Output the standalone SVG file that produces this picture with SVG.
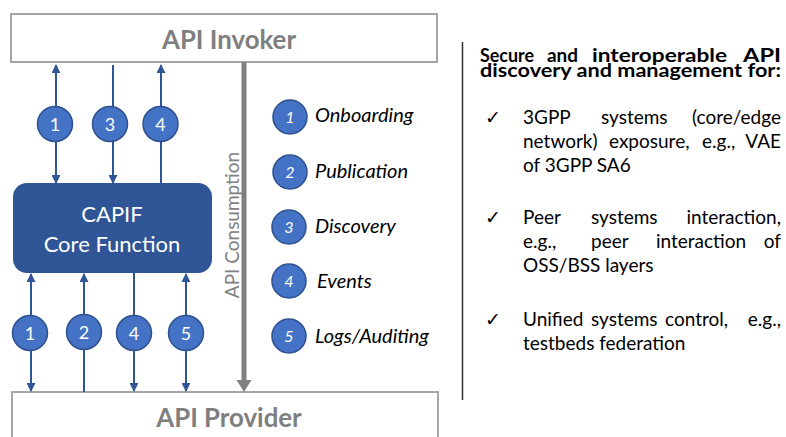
<svg xmlns="http://www.w3.org/2000/svg" width="786" height="437" viewBox="0 0 786 437">
  <style>
    .box { fill: #ffffff; stroke: #a6a6a6; stroke-width: 2; }
    .boxlabel { font-family: Lato, "Liberation Sans", sans-serif; font-weight: bold; font-size: 25.8px; fill: #7f7f7f; text-anchor: middle; }
    .core { fill: #2f5597; }
    .corelabel { font-family: Lato, "Liberation Sans", sans-serif; font-size: 22px; fill: #ffffff; text-anchor: middle; }
    .flow { stroke: #2f5597; stroke-width: 2; fill: none; }
    .badge { fill: #4472c4; stroke: #2f528f; stroke-width: 1.5; }
    .badgenum { font-family: Lato, "Liberation Sans", sans-serif; font-size: 18px; fill: #ffffff; text-anchor: middle; }
    .legnum { font-family: Lato, "Liberation Sans", sans-serif; font-style: italic; font-size: 16px; fill: #ffffff; text-anchor: middle; }
    .legtext { font-family: Lato, "Liberation Sans", sans-serif; font-style: italic; font-size: 20px; fill: #000000; }
    .consume { stroke: #808080; stroke-width: 5; }
    .consumelabel { font-family: Lato, "Liberation Sans", sans-serif; font-size: 19px; fill: #808080; text-anchor: middle; }
    .title { font-family: Lato, "Liberation Sans", sans-serif; font-weight: bold; font-size: 19px; fill: #000000; }
    .item { font-family: Lato, "Liberation Sans", sans-serif; font-size: 19px; fill: #000000; }
    .tick { font-family: "DejaVu Sans", sans-serif; font-size: 19px; fill: #000000; }
    .end { text-anchor: end; }
  </style>
  <defs>
    <marker id="ah" viewBox="0 0 10 10" refX="9" refY="5" markerWidth="9" markerHeight="9" markerUnits="userSpaceOnUse" orient="auto-start-reverse">
      <path d="M0,0 L10,5 L0,10 z" fill="#2f5597"/>
    </marker>
  </defs>

  <!-- API Invoker -->
  <g id="api-invoker">
    <rect class="box" x="11" y="14" width="426" height="48"/>
    <text class="boxlabel" x="229" y="49">API Invoker</text>
  </g>

  <!-- API Provider -->
  <g id="api-provider">
    <rect class="box" x="12" y="392" width="426" height="60"/>
    <text class="boxlabel" x="229" y="427">API Provider</text>
  </g>

  <!-- CAPIF Core Function -->
  <g id="capif-core">
    <rect class="core" x="13" y="183" width="199" height="90" rx="14" ry="14"/>
    <text class="corelabel" x="112" y="222">CAPIF</text>
    <text class="corelabel" x="112" y="252">Core Function</text>
  </g>

  <!-- Connectors -->
  <g id="connectors">
    <!-- invoker side -->
    <path class="flow" d="M56,65 L56,183" marker-start="url(#ah)" marker-end="url(#ah)"/>
    <path class="flow" d="M113,65 L113,183" marker-end="url(#ah)"/>
    <path class="flow" d="M161,183 L161,65" marker-end="url(#ah)"/>
    <!-- provider side -->
    <path class="flow" d="M31,274 L31,391" marker-start="url(#ah)" marker-end="url(#ah)"/>
    <path class="flow" d="M84,392 L84,274" marker-end="url(#ah)"/>
    <path class="flow" d="M134,273 L134,391" marker-end="url(#ah)"/>
    <path class="flow" d="M186,274 L186,391" marker-start="url(#ah)" marker-end="url(#ah)"/>
    <!-- API consumption -->
    <line class="consume" x1="244" y1="62" x2="244" y2="381"/>
    <polygon points="236.5,380 251.5,380 244,392" fill="#808080"/>
    <text class="consumelabel" transform="translate(239,225) rotate(-90)">API Consumption</text>
  </g>

  <!-- Interface badges -->
  <g id="badge-inv-1"><circle class="badge" cx="55" cy="124" r="17.5"/><text class="badgenum" x="55" y="130.5">1</text></g>
  <g id="badge-inv-3"><circle class="badge" cx="110" cy="124" r="17.5"/><text class="badgenum" x="110" y="130.5">3</text></g>
  <g id="badge-inv-4"><circle class="badge" cx="160.5" cy="124" r="17.5"/><text class="badgenum" x="160.5" y="130.5">4</text></g>
  <g id="badge-prov-1"><circle class="badge" cx="30" cy="333" r="17.5"/><text class="badgenum" x="30" y="339.5">1</text></g>
  <g id="badge-prov-2"><circle class="badge" cx="84" cy="332" r="17.5"/><text class="badgenum" x="84" y="338.5">2</text></g>
  <g id="badge-prov-4"><circle class="badge" cx="134" cy="333" r="17.5"/><text class="badgenum" x="134" y="339.5">4</text></g>
  <g id="badge-prov-5"><circle class="badge" cx="186" cy="333" r="17.5"/><text class="badgenum" x="186" y="339.5">5</text></g>

  <!-- Legend -->
  <g id="legend-1"><circle class="badge" cx="290" cy="117" r="17"/><text class="legnum" x="290" y="123">1</text><text class="legtext" x="315" y="122">Onboarding</text></g>
  <g id="legend-2"><circle class="badge" cx="290" cy="172" r="17"/><text class="legnum" x="290" y="178">2</text><text class="legtext" x="315" y="178">Publication</text></g>
  <g id="legend-3"><circle class="badge" cx="289" cy="227" r="17"/><text class="legnum" x="289" y="233">3</text><text class="legtext" x="315" y="233">Discovery</text></g>
  <g id="legend-4"><circle class="badge" cx="289" cy="281" r="17"/><text class="legnum" x="289" y="287">4</text><text class="legtext" x="317" y="288">Events</text></g>
  <g id="legend-5"><circle class="badge" cx="289" cy="336" r="17"/><text class="legnum" x="289" y="342">5</text><text class="legtext" x="315" y="343">Logs/Auditing</text></g>

  <!-- Divider -->
  <line x1="462.5" y1="42" x2="462.5" y2="400" stroke="#333333" stroke-width="1.5"/>

  <!-- Feature list -->
  <g id="feature-list">
    <text class="title" x="480" y="62" textLength="54" lengthAdjust="spacingAndGlyphs">Secure</text>
    <text class="title" x="547" y="62" textLength="31" lengthAdjust="spacingAndGlyphs">and</text>
    <text class="title" x="592" y="62" textLength="135" lengthAdjust="spacingAndGlyphs">interoperable</text>
    <text class="title" x="743" y="62" textLength="38" lengthAdjust="spacingAndGlyphs">API</text>
    <text class="title" x="480" y="77" textLength="301" lengthAdjust="spacingAndGlyphs">discovery and management for:</text>

    <text class="tick" x="485" y="124">✓</text>
    <text class="item"><tspan x="523" y="124">3GPP</tspan><tspan x="601" y="124">systems</tspan><tspan class="end" x="781" y="124">(core/edge</tspan></text>
    <text class="item"><tspan x="523" y="148">network)</tspan><tspan x="609" y="148">exposure,</tspan><tspan x="702" y="148">e.g.,</tspan><tspan class="end" x="781" y="148">VAE</tspan></text>
    <text class="item" x="523" y="172">of 3GPP SA6</text>

    <text class="tick" x="485" y="224">✓</text>
    <text class="item"><tspan x="523" y="224">Peer</tspan><tspan x="591" y="224">systems</tspan><tspan class="end" x="781" y="224">interaction,</tspan></text>
    <text class="item"><tspan x="523" y="248">e.g.,</tspan><tspan x="591" y="248">peer</tspan><tspan x="656" y="248">interaction</tspan><tspan class="end" x="781" y="248">of</tspan></text>
    <text class="item" x="523" y="272">OSS/BSS layers</text>

    <text class="tick" x="485" y="326">✓</text>
    <text class="item"><tspan x="523" y="326">Unified</tspan><tspan x="591" y="326">systems</tspan><tspan x="665" y="326">control,</tspan><tspan class="end" x="781" y="326">e.g.,</tspan></text>
    <text class="item" x="523" y="350">testbeds federation</text>
  </g>
</svg>
